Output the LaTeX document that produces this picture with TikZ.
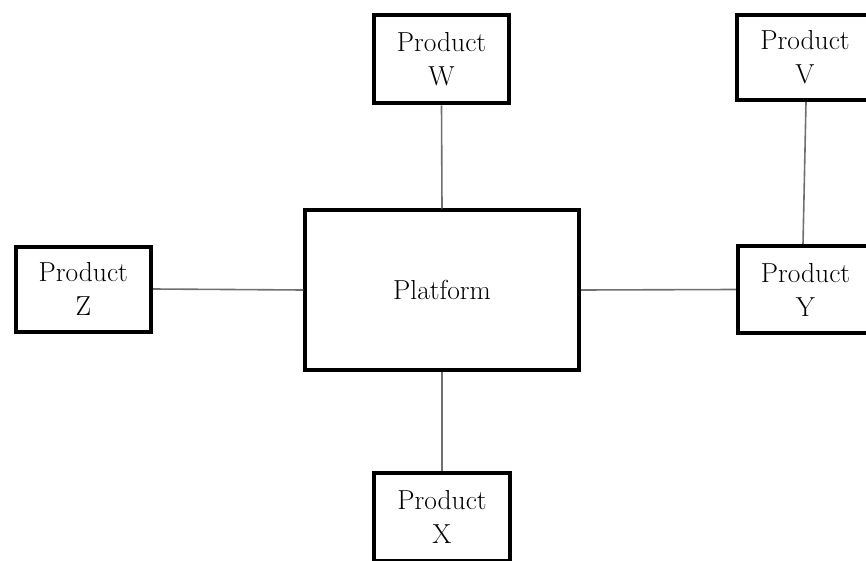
\documentclass[tikz,border=0pt]{standalone}
\usepackage{tikz}

\tikzset{
  unit/.style={draw=black, line width=4pt, fill=white, inner sep=0pt,
    align=center, font=\fontsize{27.5}{34}\selectfont},
  product/.style={unit, minimum width=135.5pt, minimum height=87pt},
  link/.style={draw={rgb,255:red,112;green,112;blue,112}, line width=1.6pt}
}

\begin{document}
\begin{tikzpicture}[x=1pt, y=-1pt]
  % page frame
  \useasboundingbox (0,0) rectangle (866,561);
  \clip (0,0) rectangle (866,561);

  % platform in the middle, products around it
  \node[unit, minimum width=273.5pt, minimum height=159pt] (plat) at (442,290) {Platform};
  \node[product, minimum height=88pt] (w) at (441.5,59.5) {Product\\W};
  \node[product, minimum height=85pt] (v) at (805,57.5) {Product\\V};
  \node[product, minimum height=85pt] (z) at (83.25,289) {Product\\Z};
  \node[product] (y) at (805.5,289.5) {Product\\Y};
  \node[product, minimum height=88pt] (x) at (442,517) {Product\\X};

  % connectors between the boxes
  \path[link] (w.south) -- (plat.north);
  \path[link] (plat.south) -- (x.north);
  \path[link] (z.east) -- (plat.west);
  \path[link] (plat.east) -- (y.west);
  \path[link] ([xshift=1pt]v.south) -- ([xshift=-2.5pt]y.north);
\end{tikzpicture}
\end{document}
